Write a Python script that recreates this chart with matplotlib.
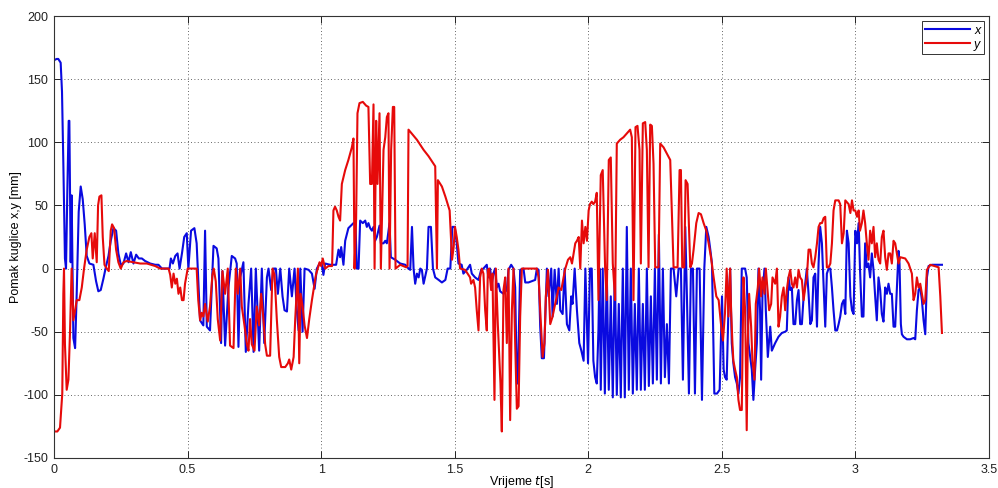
import numpy as np
import matplotlib
matplotlib.use('Agg')
import matplotlib.pyplot as plt

# ---- data: x position of the ball [mm] vs time [s] ----
x_t = [0.000, 0.010, 0.016, 0.025, 0.030, 0.035, 0.041, 0.045, 0.050, 0.055, 0.0575, 0.0625, 0.066, 0.0725, 0.079,
       0.085, 0.0925, 0.100, 0.1075, 0.115, 0.1225, 0.1325, 0.1475, 0.1575, 0.166, 0.175, 0.185, 0.195, 0.204,
       0.2125, 0.2225, 0.2325, 0.241, 0.25, 0.26, 0.27, 0.279, 0.2875, 0.2975, 0.3075, 0.3175, 0.329, 0.341, 0.36,
       0.379, 0.391, 0.404, 0.4225, 0.4325, 0.4375, 0.445, 0.454, 0.4625, 0.47, 0.479, 0.4875,
       0.497, 0.503, 0.513, 0.5255, 0.534, 0.5468, 0.559, 0.5655, 0.572, 0.584, 0.597, 0.609, 0.6155, 0.6255,
       0.6305, 0.6405, 0.653, 0.6655, 0.678, 0.684, 0.6905, 0.697, 0.709, 0.718, 0.728, 0.738, 0.747, 0.7555,
       0.768, 0.778, 0.787, 0.797, 0.803, 0.813, 0.822, 0.8305, 0.838, 0.847, 0.8555, 0.863, 0.872, 0.8805,
       0.8905, 0.9005, 0.909, 0.9155, 0.922, 0.9305, 0.938, 0.953, 0.9655, 0.9755, 0.984, 0.994,
       1.002, 1.0085, 1.015, 1.0335, 1.056, 1.065, 1.071, 1.075, 1.0835, 1.090, 1.102, 1.121, 1.1285, 1.1335,
       1.140, 1.146, 1.156, 1.165, 1.171, 1.177, 1.1835, 1.190, 1.196, 1.202, 1.2085, 1.2185, 1.2235, 1.2335,
       1.240, 1.246, 1.256, 1.261, 1.277, 1.296, 1.315, 1.327, 1.3335, 1.340, 1.346, 1.352, 1.3585, 1.365,
       1.371, 1.377, 1.3835, 1.396, 1.402, 1.411, 1.4185, 1.427, 1.440, 1.452, 1.465, 1.4735, 1.4835, 1.491, 1.500,
       1.5075, 1.514, 1.526, 1.5325, 1.545, 1.5575, 1.564, 1.5763, 1.589, 1.599, 1.6075, 1.620, 1.626, 1.6325,
       1.639, 1.645, 1.651, 1.6575, 1.664, 1.670, 1.6825, 1.695, 1.7013, 1.7113, 1.720, 1.7263, 1.7325, 1.736,
       1.745, 1.7575, 1.764, 1.776, 1.801, 1.8075, 1.814, 1.820, 1.826, 1.834, 1.839, 1.845, 1.8513, 1.8613,
       1.8663, 1.874, 1.8825, 1.889, 1.895, 1.904, 1.9113, 1.920, 1.929, 1.936, 1.941, 1.949, 1.9575, 1.9663,
       1.974, 1.9825, 1.989, 1.999, 2.0063,
       2.013, 2.019, 2.0255, 2.0317, 2.038, 2.042, 2.0467, 2.054, 2.062, 2.069, 2.0767, 2.0842, 2.0917, 2.0992,
       2.1067, 2.1142, 2.1217, 2.1292, 2.1367, 2.1442, 2.1517, 2.1592, 2.1667, 2.1742, 2.1817, 2.1892, 2.1967,
       2.2042, 2.2117, 2.2192, 2.2267, 2.2342, 2.2417, 2.2492, 2.2567, 2.2642, 2.2717, 2.2792, 2.2867, 2.2942,
       2.3017, 2.3092, 2.3192, 2.3292, 2.338, 2.3467, 2.3542, 2.363, 2.3692, 2.3767, 2.3842, 2.3917, 2.3992,
       2.4067, 2.4167, 2.4255, 2.4342, 2.4417, 2.4505, 2.4567, 2.463, 2.4717, 2.4817, 2.4917, 2.5005, 2.5067, 2.5117,
       2.518, 2.5245, 2.531, 2.537, 2.543, 2.5495, 2.556, 2.562, 2.568, 2.5745, 2.587, 2.593, 2.5995, 2.606,
       2.612, 2.618, 2.6245, 2.631, 2.637, 2.643, 2.647, 2.652, 2.6595, 2.6645, 2.672, 2.681, 2.687, 2.6995,
       2.712, 2.7245, 2.737, 2.743, 2.7495, 2.756, 2.762, 2.768, 2.7745, 2.781, 2.787, 2.793, 2.7995, 2.806,
       2.812, 2.818, 2.8245, 2.831, 2.837, 2.843, 2.8495, 2.856, 2.862, 2.868, 2.8745, 2.881, 2.887, 2.893,
       2.8995, 2.906, 2.912, 2.918, 2.9245, 2.931, 2.937, 2.943, 2.9495, 2.956, 2.962, 2.968, 2.9745, 2.981,
       2.987, 2.993, 2.9995, 3.006, 3.012, 3.017,
       3.024, 3.030, 3.0363, 3.0426, 3.0488, 3.055, 3.0613, 3.0676, 3.0738, 3.080, 3.0863, 3.0926, 3.0988,
       3.105, 3.1113, 3.1176, 3.1238, 3.130, 3.1363, 3.1426, 3.1488, 3.155, 3.1613, 3.165, 3.170, 3.1738,
       3.180, 3.1926, 3.205, 3.2176, 3.2238, 3.230, 3.2363, 3.2426, 3.2488, 3.255, 3.2613, 3.2676, 3.2738,
       3.2863, 3.305, 3.3238]
x_mm = [165, 166, 166, 163, 140, 83, 8, 0, 62, 117, 117, 5, 58, -55, -63,
        -20, 45, 65, 55, 35, 10, 4, 3, -10, -18, -17, -8, 2, 10,
        22, 32, 30, 12, 3, 4, 12, 5, 13, 4, 11, 8, 8, 6, 4,
        3, 3, 0, 0, 0, 8, 4, 10, 12, 0, 12, 25,
        28, 0, 30, 32, 20, -41, -45, 30, -46, -49, 18, 16, 8, -59,
        -2, -61, -15, 10, 8, 4, -62, -7, 5, -66, -28, 0, -66, 0,
        -65, 0, -59, -7, 0, -17, 0, 0, -20, 0, -22, -33, -34, 0,
        -22, 0, -33, -49, 0, -50, 0, -1, -4, -16, 0, 4,
        4, -5, 4, 3, 3, 15, 9, 17, 3, 22, 32, 36, 36, 0,
        0, 38, 36, 38, 33, 36, 32, 30, 33, 22, 25, 34, 20, 20,
        22, 20, 36, 9, 7, 4, 3, 0, -1, 33, 0, -12, -4, -7,
        0, -1, -12, 0, 33, 33, 0, -7, -9, -11, -9, 0, 0, 33, 33,
        20, 4, 3, -4, -1, 3, -4, -7, -9, -1, 0, 3, -7, 0,
        -12, -4, 0, -15, -12, -18, -20, -17, -1, 3, 0, -15, -91, -91,
        -1, 0, -11, -11, -9, 0, -1, -46, -71, -71, -38, 0, -22, 0,
        -38, -1, -28, 0, -33, -36, 0, -44, -49, -22, -28, 0, -33, -59,
        -65, -73, 0, -75, 0,
        0, -73, -86, -91, -49, 0, -96, 0, -99, 0, -96, -22, -102, 0,
        -100, -28, -102, 0, -102, 33, -96, 0, -99, -28, -96, 0, -96,
        -28, -96, 0, -93, -22, -91, 0, -88, 27, -91, 0, -86, -44,
        -91, 0, 0, -22, 0, 0, -88, 33, -22, -99, 0, 0, -99,
        0, 0, -104, 0, 33, 25, 15, 4, -99, -99, -96, -22, -80, -86,
        -88, -33, 0, -59, -75, -86, -91, -99, -86, 0, 0, -7, -59, -70,
        -80, -104, -80, -59, 0, -33, -88, -20, 0, -33, -70, -46, -65, -59,
        -54, -51, -50, -49, -7, -17, -15, -44, -44, -25, -17, -44, -44, -22,
        -12, 0, -20, -44, -41, -7, -4, -46, 4, 33, 20, -15, -46, -4,
        0, 0, -15, -33, -49, -49, -44, -38, -28, -25, -36, 30, 20, -22,
        -33, -36, 30, 20, 36, 0,
        -38, -38, 20, 1, 4, -7, 12, -1, -22, -41, -7, -17, -36,
        -42, -15, -20, -12, -20, -20, -46, -46, -17, 14, 4, -44, -52,
        -54, -56, -56, -55, -56, -33, -17, -15, -25, -41, -52, -7, 2,
        3, 3, 3]

# ---- data: y position of the ball [mm] vs time [s] ----
y_t = [0.000, 0.0125, 0.0225, 0.0275, 0.031, 0.035, 0.0375, 0.041, 0.0475, 0.054, 0.060, 0.066, 0.0725, 0.079,
       0.085, 0.095, 0.104, 0.1125, 0.1225, 0.1325, 0.140, 0.145, 0.1525, 0.160, 0.165, 0.170, 0.1775, 0.1825,
       0.189, 0.1975, 0.205, 0.2125, 0.2175, 0.225, 0.2325, 0.241, 0.25, 0.26, 0.2725, 0.2975, 0.3225, 0.3475,
       0.379, 0.3975, 0.429, 0.435, 0.441, 0.4475, 0.454, 0.46, 0.466, 0.4725, 0.479, 0.485,
       0.4905, 0.5005, 0.534, 0.540, 0.547, 0.553, 0.559, 0.5655, 0.5755, 0.584, 0.593, 0.598, 0.6055, 0.613,
       0.622, 0.6305, 0.6405, 0.6505, 0.659, 0.672, 0.6805, 0.688, 0.697, 0.703, 0.713, 0.722, 0.728, 0.734,
       0.7405, 0.7505, 0.759, 0.768, 0.7755, 0.784, 0.7905, 0.797, 0.809, 0.818, 0.8255, 0.834, 0.843, 0.8505,
       0.8655, 0.8755, 0.8805, 0.888, 0.897, 0.903, 0.913, 0.918, 0.923, 0.9305, 0.938, 0.947, 0.9555, 0.9655,
       0.9805, 0.994,
       1.000, 1.006, 1.015, 1.0275, 1.041, 1.046, 1.052, 1.0585, 1.065, 1.071, 1.0775, 1.090, 1.102, 1.115,
       1.121, 1.125, 1.131, 1.136, 1.1435, 1.156, 1.1685, 1.177, 1.1835, 1.190, 1.196, 1.200, 1.206, 1.211,
       1.2185, 1.2235, 1.2335, 1.240, 1.246, 1.252, 1.256, 1.262, 1.2685, 1.2735, 1.2785, 1.296, 1.3185,
       1.3235, 1.327, 1.3585, 1.3835, 1.402, 1.427, 1.4335, 1.437, 1.452, 1.465, 1.481, 1.490, 1.496, 1.501,
       1.5075, 1.514, 1.520, 1.539, 1.5575, 1.5613, 1.570, 1.5763, 1.5825, 1.589, 1.595, 1.6013, 1.6075, 1.614,
       1.620, 1.624, 1.629, 1.6363, 1.6413, 1.6488, 1.654, 1.6613, 1.6663, 1.6713, 1.6763, 1.6825, 1.689,
       1.695, 1.7013, 1.7075, 1.714, 1.720, 1.7263, 1.7325, 1.739, 1.745, 1.7513, 1.8075, 1.814, 1.820, 1.829,
       1.836, 1.841, 1.849, 1.8575, 1.8663, 1.876, 1.8825, 1.889, 1.899, 1.9075, 1.914, 1.924, 1.9325, 1.939,
       1.945, 1.9513, 1.9575, 1.964, 1.970, 1.9763, 1.9825, 1.989, 1.995, 2.0013, 2.0063,
       2.013, 2.019, 2.0255, 2.0317, 2.038, 2.0467, 2.054, 2.0629, 2.069, 2.0767, 2.0842, 2.0917, 2.1005,
       2.1067, 2.1192, 2.1317, 2.1442, 2.1567, 2.163, 2.1692, 2.1767, 2.1842, 2.1917, 2.1967, 2.2042, 2.213,
       2.2192, 2.2255, 2.2317, 2.238, 2.2442, 2.2505, 2.263, 2.2692, 2.2817, 2.2942, 2.3067, 2.3192, 2.3342,
       2.3417, 2.3467, 2.3517, 2.3592, 2.3642, 2.3717, 2.3817, 2.388, 2.3942, 2.4042, 2.413, 2.4217, 2.4317,
       2.4417, 2.4505, 2.4592, 2.4692, 2.4792, 2.488, 2.4967, 2.5042, 2.5117,
       2.518, 2.5245, 2.531, 2.5345, 2.5395, 2.543, 2.5495, 2.556, 2.562, 2.568, 2.5745, 2.581, 2.587, 2.593,
       2.597, 2.602, 2.6095, 2.6145, 2.622, 2.627, 2.6345, 2.6395, 2.647, 2.652, 2.6595, 2.6645, 2.672, 2.677,
       2.6845, 2.6895, 2.6995, 2.706, 2.712, 2.718, 2.7245, 2.731, 2.737, 2.743, 2.7495, 2.756, 2.762, 2.768,
       2.7745, 2.781, 2.787, 2.793, 2.7995, 2.806, 2.812, 2.818, 2.8245, 2.831, 2.837, 2.843, 2.8495, 2.856,
       2.862, 2.868, 2.8745, 2.881, 2.887, 2.893, 2.8995, 2.906, 2.912, 2.918, 2.9245, 2.937, 2.943, 2.9495,
       2.956, 2.962, 2.9745, 2.981, 2.987, 2.993, 2.9995, 3.006, 3.012, 3.017,
       3.024, 3.030, 3.0363, 3.0426, 3.0488, 3.055, 3.0613, 3.0676, 3.0738, 3.080, 3.0863, 3.0926, 3.0988,
       3.105, 3.1113, 3.1176, 3.1238, 3.130, 3.1363, 3.1426, 3.1488, 3.155, 3.1613, 3.1676, 3.1863, 3.1988,
       3.2113, 3.2176, 3.2238, 3.230, 3.2363, 3.2426, 3.2488, 3.255, 3.2613, 3.2676, 3.2738, 3.280, 3.3113,
       3.3176, 3.3238]
y_mm = [-129, -129, -126, -110, -99, -20, 0, -60, -96, -88, -50, 0, -41, -33,
        -25, -25, -15, 0, 15, 25, 28, 8, 28, 5, 50, 57, 58, 25,
        3, 0, -2, 30, 35, 32, 15, 5, 0, 5, 6, 5, 4, 4,
        2, 0, 0, -5, -15, -4, -12, -8, -20, -15, -25, -25,
        -12, 0, 0, -25, -41, -35, -38, -28, -42, -30, -5, 0, -10, -40,
        -57, -2, -20, 0, -61, -63, 0, -20, 0, -30, -45, -60, -65, -40,
        -60, -65, -30, -45, -20, -40, -60, -69, -69, 0, -5, -40, -70, -78,
        -78, -75, -72, -80, -70, -40, 0, -75, -20, -30, -45, -55, -40, -25,
        -5, 5,
        2, 8, 0, 2, 2, 46, 49, 46, 41, 38, 67, 78, 86, 96,
        103, 0, 40, 123, 131, 132, 129, 128, 67, 67, 130, 0, 117, 67,
        123, 0, 94, 104, 120, 123, 0, 94, 128, 128, 0, 3, 1,
        2, 110, 102, 94, 89, 81, 0, 70, 65, 57, 46, 7, 17, 33,
        25, 15, 0, -1, -7, -12, -9, -15, -33, -49, -7, 0, -4, -33,
        -49, -1, 0, -17, -4, -104, 0, -44, -67, -91, -129, -17, -7,
        -59, 0, -120, -33, 0, -59, -111, -109, -38, 0, 0, -7, -33, -70,
        -59, -22, -1, -44, -38, -28, -22, -15, -17, -7, 0, 7, 9, 4,
        12, 20, 22, 25, 0, 38, 20, 33, 22, 46, 51,
        53, 51, 53, 60, -25, 74, 78, 1, -25, 86, 88, 4, -25,
        99, 102, 104, 107, 110, 104, -25, 112, 113, 94, 4, 115, 116,
        94, 1, 114, 113, 83, 1, 1, 99, 96, 91, 86, 1, 1,
        78, 78, 1, 1, 70, 67, 1, 4, 15, 36, 44, 43, 36,
        30, 20, 9, -7, -22, -25, -44, -57, -35,
        0, -38, 0, -33, -59, -73, -80, -86, -104, -112, -112, -7, -33, -128,
        -59, -20, -46, -73, -88, -28, -15, 0, -22, -7, -20, 0, -20, -33,
        -28, -7, -12, 0, -46, -38, -22, -15, -33, -17, -7, -1, -12, -15,
        -7, -15, -1, -7, -9, -25, -15, -7, 15, 15, 4, 1, 9, 20,
        33, 36, 36, 40, 41, 1, 1, 4, 20, 46, 54, 54, 51, 20,
        28, 54, 51, 44, 54, 46, 46, 41, 46, 30,
        36, 46, 36, 20, 7, 30, 20, 33, 9, 20, 7, 4, 25,
        30, 9, -1, 12, 12, 4, 22, 20, 12, 4, 9, 8, 4,
        -4, -25, -20, -7, -15, -12, -20, -28, -25, -1, 1, 3, 1,
        -22, -51]

x_ticks = [0, 0.5, 1, 1.5, 2, 2.5, 3, 3.5]
x_tick_labels = ['0', '0.5', '1', '1.5', '2', '2.5', '3', '3.5']
y_ticks = [-150, -100, -50, 0, 50, 100, 150, 200]

plt.rcParams['font.family'] = ['Liberation Sans', 'DejaVu Sans']
plt.rcParams['axes.unicode_minus'] = False
fig = plt.figure(figsize=(9.98, 4.88), dpi=100)
ax = fig.add_axes([0.0541, 0.0615, 0.9369, 0.9057])

ax.plot(x_t, x_mm, color='#0a0ae0', lw=1.5, label='x')
ax.plot(y_t, y_mm, color='#e60a0a', lw=1.5, label='y')

ax.set_xlim(0, 3.5)
ax.set_ylim(-150, 200)
ax.set_xticks(x_ticks)
ax.set_xticklabels(x_tick_labels)
ax.set_yticks(y_ticks)
ax.grid(True, color='#333333', linestyle=(0, (1, 3)), lw=0.6)
ax.tick_params(direction='in', top=True, right=True, length=5, width=0.7,
               labelsize=9, colors='#222222', pad=4)
for s in ax.spines.values():
    s.set_color('#333333')
    s.set_linewidth(0.8)

ax.set_xlabel('Vrijeme $\\it{t}$[s]', fontsize=9)
ax.xaxis.set_label_coords(0.5, -0.036)
ax.set_ylabel('Pomak kuglice x,y [mm]', fontsize=9)
ax.yaxis.set_label_coords(-0.034, 0.5)

leg = ax.legend(loc='upper right', fancybox=False, framealpha=1, edgecolor='#333333',
                handlelength=3.6, handletextpad=0.3, borderpad=0.3, labelspacing=0.15,
                borderaxespad=0.4, prop={'style': 'italic', 'size': 9})
leg.get_frame().set_linewidth(0.7)

fig.savefig('out.png', dpi=100)
